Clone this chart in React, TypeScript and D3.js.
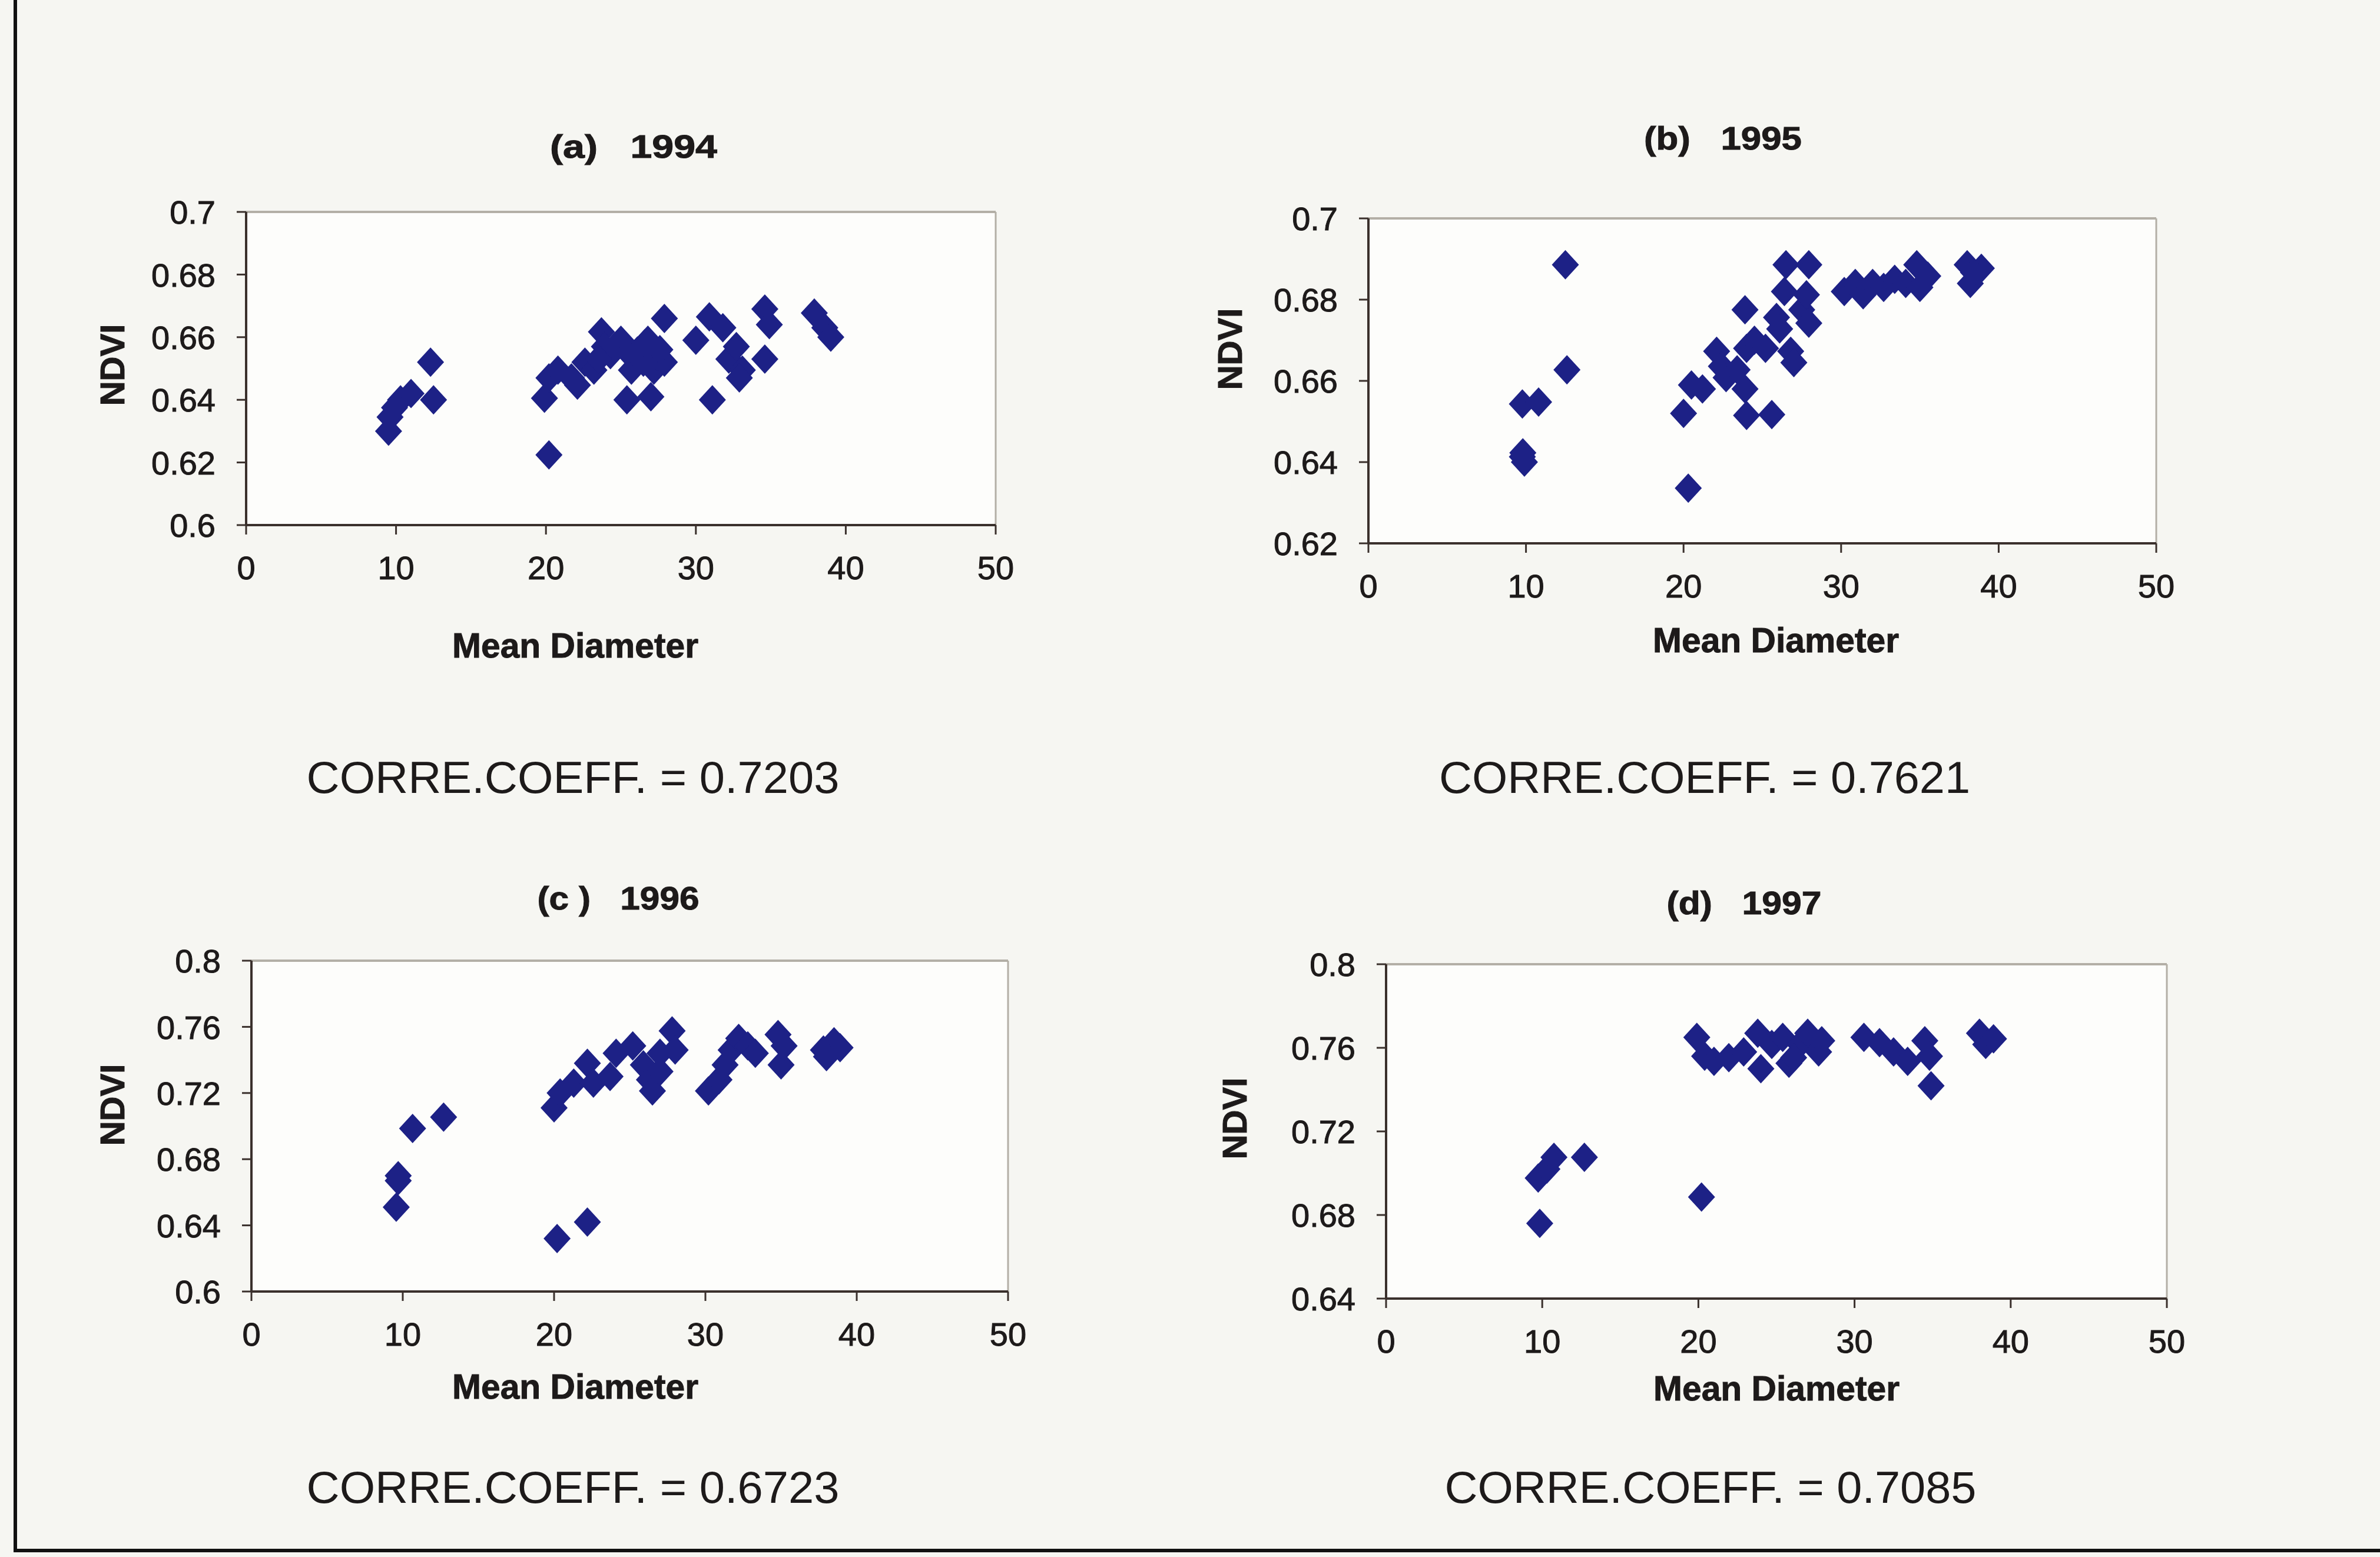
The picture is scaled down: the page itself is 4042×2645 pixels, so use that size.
import React from "react";
import * as d3 from "d3";

// ---------- data ----------
const xTicks = [0, 10, 20, 30, 40, 50];

const yTicks1994 = [0.6, 0.62, 0.64, 0.66, 0.68, 0.7];
const yTicks1995 = [0.62, 0.64, 0.66, 0.68, 0.7];
const yTicks1996 = [0.6, 0.64, 0.68, 0.72, 0.76, 0.8];
const yTicks1997 = [0.64, 0.68, 0.72, 0.76, 0.8];

const diam1994 = [9.5, 9.6, 9.9, 10.3, 11.0, 12.3, 12.5, 20.2, 19.9, 20.2, 20.8, 21.7, 22.1, 22.6, 23.2, 23.7, 23.9, 24.3, 25.0, 25.4, 25.7, 26.1, 26.8, 27.0, 27.2, 27.4, 27.9, 27.9, 30.0, 30.9, 31.1, 31.8, 32.2, 32.7, 33.1, 32.9, 34.6, 34.9, 34.6, 37.9, 38.6, 39.0, 24.6, 25.5, 26.5, 26.6, 27.6, 23.5];
const ndvi1994 = [0.630, 0.6345, 0.6375, 0.640, 0.642, 0.652, 0.640, 0.6224, 0.6405, 0.647, 0.6495, 0.647, 0.6447, 0.652, 0.6495, 0.6617, 0.657, 0.6544, 0.659, 0.640, 0.6495, 0.6556, 0.659, 0.641, 0.6495, 0.654, 0.652, 0.666, 0.659, 0.6665, 0.640, 0.663, 0.653, 0.657, 0.6495, 0.647, 0.669, 0.664, 0.653, 0.6677, 0.663, 0.660, 0.657, 0.655, 0.652, 0.658, 0.656, 0.653];

const diam1995 = [9.77, 9.8, 9.9, 9.77, 10.8, 12.5, 12.6, 20.0, 20.3, 20.5, 21.2, 22.1, 22.4, 22.7, 23.4, 23.9, 24.0, 23.9, 24.0, 24.5, 25.2, 25.6, 25.9, 26.1, 26.4, 26.5, 26.8, 27.0, 27.5, 27.8, 27.95, 27.95, 30.2, 30.9, 31.4, 32.0, 32.7, 33.4, 34.1, 34.8, 35.0, 35.5, 38.0, 38.2, 38.9, 38.4];
const ndvi1995 = [0.6413, 0.6423, 0.640, 0.6543, 0.6548, 0.6886, 0.6627, 0.652, 0.6336, 0.659, 0.658, 0.6673, 0.6636, 0.6608, 0.6627, 0.6775, 0.668, 0.658, 0.6515, 0.670, 0.668, 0.6517, 0.6756, 0.6728, 0.682, 0.6886, 0.6673, 0.6645, 0.6775, 0.6812, 0.6886, 0.6742, 0.682, 0.684, 0.6812, 0.684, 0.683, 0.685, 0.684, 0.6886, 0.683, 0.6858, 0.6886, 0.684, 0.6877, 0.6867];

const diam1996 = [9.57, 9.7, 9.7, 10.65, 12.7, 20.0, 20.2, 20.4, 21.3, 22.2, 22.2, 22.6, 23.7, 24.1, 25.2, 25.9, 26.3, 26.5, 27.0, 27.8, 28.0, 27.0, 30.2, 30.9, 31.3, 31.7, 32.2, 32.8, 33.3, 34.8, 35.0, 35.2, 37.8, 38.5, 38.9, 38.0];
const ndvi1996 = [0.651, 0.667, 0.670, 0.6986, 0.7054, 0.711, 0.632, 0.720, 0.726, 0.642, 0.738, 0.726, 0.730, 0.744, 0.7485, 0.737, 0.728, 0.7213, 0.744, 0.7576, 0.746, 0.733, 0.7213, 0.728, 0.737, 0.746, 0.753, 0.7485, 0.744, 0.7553, 0.737, 0.7485, 0.746, 0.751, 0.7474, 0.742];

const diam1997 = [9.84, 9.74, 10.3, 10.75, 12.7, 20.2, 19.9, 20.4, 21.0, 21.95, 22.9, 23.8, 24.0, 24.7, 25.4, 25.8, 26.5, 27.0, 27.7, 27.9, 26.1, 30.6, 31.6, 32.5, 33.4, 34.5, 34.8, 34.9, 38.0, 38.4, 38.9];
const ndvi1997 = [0.676, 0.6977, 0.702, 0.7076, 0.7076, 0.6886, 0.765, 0.756, 0.7535, 0.7553, 0.758, 0.767, 0.750, 0.7616, 0.765, 0.7526, 0.7616, 0.767, 0.758, 0.7634, 0.7553, 0.765, 0.7625, 0.758, 0.7535, 0.7634, 0.756, 0.7418, 0.767, 0.7616, 0.7643];

const panelTitles = ["(a)   1994", "(b)   1995", "(c )   1996", "(d)   1997"];
const corrLabels = ["CORRE.COEFF. = 0.7203", "CORRE.COEFF. = 0.7621", "CORRE.COEFF. = 0.6723", "CORRE.COEFF. = 0.7085"];
const xAxisTitle = "Mean Diameter";
const yAxisTitle = "NDVI";

// ---------- layout ----------
const W = 4042;
const H = 2645;
const FONT = "'Liberation Sans', Arial, Helvetica, sans-serif";
const MARKER = "#1d2186";
const AXIS = "#3a302c";
const FRAME = "#b3afa6";
const INK = "#1d1a1a";

type Layout = {
  left: number; right: number; top: number; bottom: number;
  titleX: number; titleY: number; titleW: number;
  ndviX: number; ndviY: number;
  mdX: number; mdY: number;
  corrX: number; corrY: number; corrW: number;
};

const layouts: Layout[] = [
  { left: 418, right: 1691, top: 360, bottom: 892, titleX: 1076, titleY: 268, titleW: 284, ndviX: 190, ndviY: 620, mdX: 977, mdY: 1117, corrX: 973, corrY: 1347, corrW: 905 },
  { left: 2324, right: 3662, top: 371, bottom: 923, titleX: 2926, titleY: 254, titleW: 268, ndviX: 2088, ndviY: 593, mdX: 3016, mdY: 1108, corrX: 2895, corrY: 1347, corrW: 902 },
  { left: 427, right: 1712, top: 1632, bottom: 2194, titleX: 1050, titleY: 1545, titleW: 275, ndviX: 190, ndviY: 1877, mdX: 977, mdY: 2376, corrX: 973, corrY: 2553, corrW: 905 },
  { left: 2354, right: 3680, top: 1638, bottom: 2206, titleX: 2962, titleY: 1553, titleW: 263, ndviX: 2096, ndviY: 1900, mdX: 3017, mdY: 2379, corrX: 2905, corrY: 2553, corrW: 903 },
];

const series = [
  { xs: diam1994, ys: ndvi1994, yTicks: yTicks1994 },
  { xs: diam1995, ys: ndvi1995, yTicks: yTicks1995 },
  { xs: diam1996, ys: ndvi1996, yTicks: yTicks1996 },
  { xs: diam1997, ys: ndvi1997, yTicks: yTicks1997 },
];

const diamond = (hw: number, hh: number) => `M0,${-hh}L${hw},0L0,${hh}L${-hw},0Z`;
const fmt = d3.format("~g");

function Panel({ idx }: { idx: number }) {
  const L = layouts[idx];
  const s = series[idx];
  const x = d3.scaleLinear().domain([xTicks[0], xTicks[xTicks.length - 1]]).range([L.left, L.right]);
  const y = d3.scaleLinear().domain([s.yTicks[0], s.yTicks[s.yTicks.length - 1]]).range([L.bottom, L.top]);
  const pts = s.xs.map((d, i) => ({ x: d, y: s.ys[i] }));
  const tick = 16;
  return (
    <g>
      <rect x={L.left} y={L.top} width={L.right - L.left} height={L.bottom - L.top} fill="#fdfdfb" />
      <line x1={L.left} x2={L.right} y1={L.top} y2={L.top} stroke={FRAME} strokeWidth={4} />
      <line x1={L.right} x2={L.right} y1={L.top} y2={L.bottom} stroke={FRAME} strokeWidth={3} />
      <line x1={L.left} x2={L.left} y1={L.top} y2={L.bottom} stroke={AXIS} strokeWidth={4} />
      <line x1={L.left} x2={L.right} y1={L.bottom} y2={L.bottom} stroke={AXIS} strokeWidth={4} />
      {s.yTicks.map((t) => (
        <g key={"y" + t}>
          <line x1={L.left - tick} x2={L.left} y1={y(t)} y2={y(t)} stroke={AXIS} strokeWidth={3} />
          <text x={L.left - 52} y={y(t)} dy="0.36em" textAnchor="end" fontFamily={FONT} fontSize={56} fill={INK} stroke={INK} strokeWidth={1}>{fmt(t)}</text>
        </g>
      ))}
      {xTicks.map((t) => (
        <g key={"x" + t}>
          <line x1={x(t)} x2={x(t)} y1={L.bottom} y2={L.bottom + tick} stroke={AXIS} strokeWidth={3} />
          <text x={x(t)} y={L.bottom + 92} textAnchor="middle" fontFamily={FONT} fontSize={56} fill={INK} stroke={INK} strokeWidth={1}>{fmt(t)}</text>
        </g>
      ))}
      {pts.map((p, i) => (
        <path key={i} d={diamond(23, 25)} transform={`translate(${x(p.x)},${y(p.y)})`} fill={MARKER} />
      ))}
      <text x={L.titleX} y={L.titleY} textAnchor="middle" fontFamily={FONT} fontWeight="bold" fontSize={56} fill={INK} stroke={INK} strokeWidth={1} style={{ whiteSpace: "pre" }} textLength={L.titleW} lengthAdjust="spacingAndGlyphs">{panelTitles[idx]}</text>
      <text transform={`translate(${L.ndviX},${L.ndviY}) rotate(-90)`} dy="0.36em" textAnchor="middle" fontFamily={FONT} fontWeight="bold" fontSize={58} fill={INK} stroke={INK} strokeWidth={1}>{yAxisTitle}</text>
      <text x={L.mdX} y={L.mdY} textAnchor="middle" fontFamily={FONT} fontWeight="bold" fontSize={60} fill={INK} stroke={INK} strokeWidth={1} textLength={418} lengthAdjust="spacingAndGlyphs">{xAxisTitle}</text>
      <text x={L.corrX} y={L.corrY} textAnchor="middle" fontFamily={FONT} fontSize={76} fill={INK} textLength={L.corrW} lengthAdjust="spacingAndGlyphs">{corrLabels[idx]}</text>
    </g>
  );
}

export default function App() {
  return (
    <svg width={W} height={H} style={{ position: "absolute", left: 0, top: 0, display: "block" }} xmlns="http://www.w3.org/2000/svg">
      <rect x={0} y={0} width={W} height={H} fill="#f6f6f2" />
      {[0, 1, 2, 3].map((i) => <Panel key={i} idx={i} />)}
      <line x1={26} x2={26} y1={0} y2={2637} stroke="#111" strokeWidth={6} />
      <line x1={26} x2={W} y1={2634} y2={2634} stroke="#111" strokeWidth={6} />
    </svg>
  );
}
